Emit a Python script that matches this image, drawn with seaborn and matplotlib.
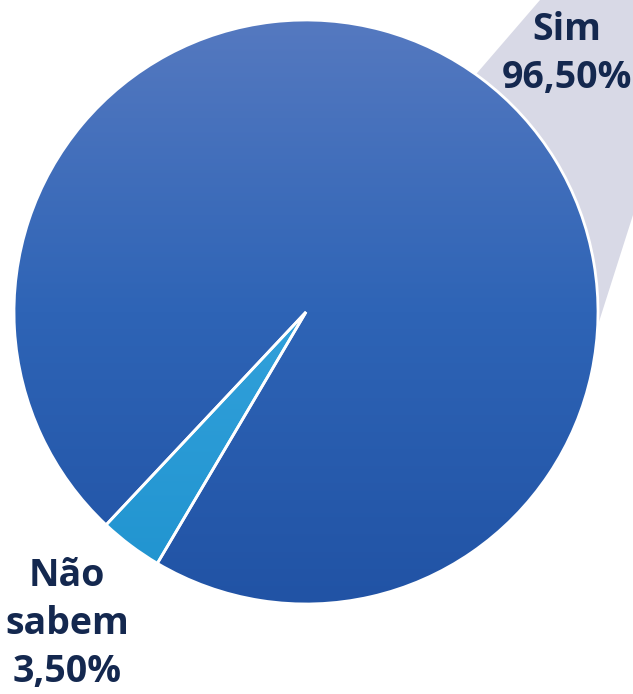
import matplotlib.pyplot as plt
import numpy as np
import seaborn as sns
from matplotlib.colors import LinearSegmentedColormap
from matplotlib.patches import Polygon

labels = ["Não\nsabem\n3,50%", "Sim\n96,50%"]
values = [3.5, 96.5]

sns.set_theme(style="white")
plt.rcParams["font.family"] = ["Open Sans", "DejaVu Sans"]

W, H = 633, 694
fig = plt.figure(figsize=(W / 100, H / 100), dpi=100)
ax = fig.add_axes([0, 0, 1, 1])

cx, cy, r = 306, H - 312, 292

# soft shadow band behind the "Sim" label
shadow = Polygon([(540, H), (W, H), (W, H - 215), (597, H - 328), (cx, cy), (440, H - 116)],
                 closed=True, facecolor="#D8D9E6", edgecolor="none", zorder=0)
ax.add_patch(shadow)

wedges, _ = ax.pie(values, center=(cx, cy), radius=r, startangle=226.8,
                   counterclock=True,
                   wedgeprops=dict(edgecolor="white", linewidth=2))

grads = [
    LinearSegmentedColormap.from_list("light", ["#1F93CF", "#45AEE6"]),
    LinearSegmentedColormap.from_list("dark", ["#2153A5", "#2E64B6", "#5579C0"]),
]
grad = np.linspace(0, 1, 256).reshape(-1, 1)
for w, cmap in zip(wedges, grads):
    w.set_facecolor("none")
    w.set_zorder(3)
    im = ax.imshow(grad, cmap=cmap, origin="lower", aspect="auto",
                   extent=(cx - r, cx + r, cy - r, cy + r), zorder=2)
    im.set_clip_path(w)

txt = dict(color="#14284F", fontsize=27, fontweight="bold", ha="center",
           va="center", linespacing=1.36, zorder=5)
ax.text(567, H - 54, labels[1], **txt)
ax.text(67, H - 624, labels[0], **txt)

ax.set_xlim(0, W)
ax.set_ylim(0, H)
ax.set_aspect("auto")
ax.axis("off")

fig.savefig("out.png", dpi=100)
